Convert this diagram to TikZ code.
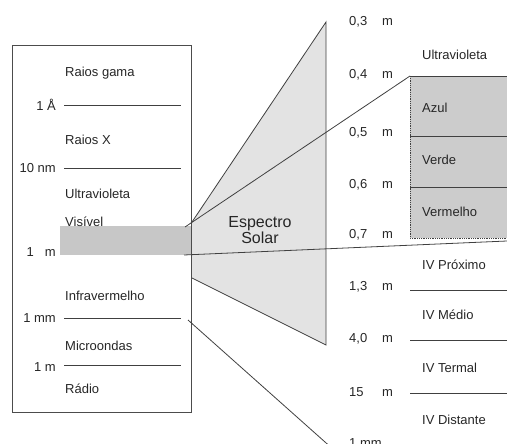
\documentclass[tikz,border=0pt]{standalone}
\usepackage{fontspec}
\setmainfont{Liberation Sans}
\begin{document}
\begin{tikzpicture}[x=1pt,y=-1pt,
  lbl/.style={font=\fontsize{13}{15}\selectfont, inner sep=0pt, text=black!85},
  big/.style={font=\fontsize{16}{19}\selectfont, inner sep=0pt, text=black!85, align=center},
  sep/.style={draw=black!75, line width=0.9pt},
  conn/.style={draw=black!75, line width=0.8pt}]
\useasboundingbox (0,0) rectangle (507,444);
% trapezoid
\fill[black!11] (192,222) -- (326,22) -- (326,345) -- (192,278) -- cycle;
\draw[conn] (192,222) -- (326,22) -- (326,345) -- (192,278);
% right gray box
\fill[black!20] (410,76) rectangle (507,238);
\draw[conn, densely dotted] (410,76) -- (410,238) -- (507,238);
\draw[sep] (410,76) -- (507,76);
\draw[sep] (410,136) -- (507,136);
\draw[sep] (410,187) -- (507,187);
% left box
\fill[black!22] (60,226) rectangle (191,255);
\draw[draw=black!70, line width=0.9pt] (12,45) rectangle (191,412);
\draw[sep] (64,105) -- (181,105);
\draw[sep] (64,168) -- (181,168);
\draw[sep] (64,318) -- (181,318);
\draw[sep] (64,365) -- (181,365);
% connectors
\coordinate (uvA) at (185,227);
\coordinate (uvB) at (410,76);
\coordinate (irA) at (184,255);
\coordinate (irB) at (507,241);
\coordinate (lwA) at (188,320);
\coordinate (lwB) at (334,450);
\draw[conn] (uvA) -- (uvB);
\draw[conn] (irA) -- (irB);
\draw[conn] (lwA) -- (lwB);
% right lines
\draw[sep] (410,290) -- (507,290);
\draw[sep] (410,340) -- (507,340);
\draw[sep] (410,393) -- (507,393);
\draw[sep] (410,444) -- (507,444);
% left texts
\node[lbl, anchor=west] (gama) at (65,73) {Raios gama};
\node[lbl, anchor=east] (ang) at (56,105) {1 Å};
\node[lbl, anchor=west] (rx) at (65,140) {Raios X};
\node[lbl, anchor=east] (nm) at (56,168) {10 nm};
\node[lbl, anchor=west] (uv) at (65,194) {Ultravioleta};
\node[lbl, anchor=west] (vis) at (65,222) {Visível};
\node[lbl, anchor=east] (um) at (56,252) {1\hspace{11pt}m};
\node[lbl, anchor=west] (iv) at (65,296) {Infravermelho};
\node[lbl, anchor=east] (mm) at (56,318) {1 mm};
\node[lbl, anchor=west] (mic) at (65,346) {Microondas};
\node[lbl, anchor=east] (m1) at (56,367) {1 m};
\node[lbl, anchor=west] (rad) at (65,389) {Rádio};
% middle
\node[big] (esp) at (260,230) {Espectro\\[-3pt]Solar};
% right texts
\node[lbl, anchor=west] (r03) at (349,22) {\makebox[33pt][l]{0,3}m};
\node[lbl, anchor=west] (ruv) at (422,55) {Ultravioleta};
\node[lbl, anchor=west] (r04) at (349,75) {\makebox[33pt][l]{0,4}m};
\node[lbl, anchor=west] (az) at (422,108) {Azul};
\node[lbl, anchor=west] (r05) at (349,133) {\makebox[33pt][l]{0,5}m};
\node[lbl, anchor=west] (vd) at (422,160) {Verde};
\node[lbl, anchor=west] (r06) at (349,185) {\makebox[33pt][l]{0,6}m};
\node[lbl, anchor=west] (vm) at (422,212) {Vermelho};
\node[lbl, anchor=west] (r07) at (349,235) {\makebox[33pt][l]{0,7}m};
\node[lbl, anchor=west] (ivp) at (422,265) {IV Próximo};
\node[lbl, anchor=west] (r13) at (349,287) {\makebox[33pt][l]{1,3}m};
\node[lbl, anchor=west] (ivm) at (422,315) {IV Médio};
\node[lbl, anchor=west] (r40) at (349,339) {\makebox[33pt][l]{4,0}m};
\node[lbl, anchor=west] (ivt) at (422,368) {IV Termal};
\node[lbl, anchor=west] (r15) at (349,392) {\makebox[33pt][l]{15}m};
\node[lbl, anchor=west] (ivd) at (422,420) {IV Distante};
\node[lbl, anchor=west] (rmm) at (349,443) {1 mm};
\end{tikzpicture}
\end{document}
